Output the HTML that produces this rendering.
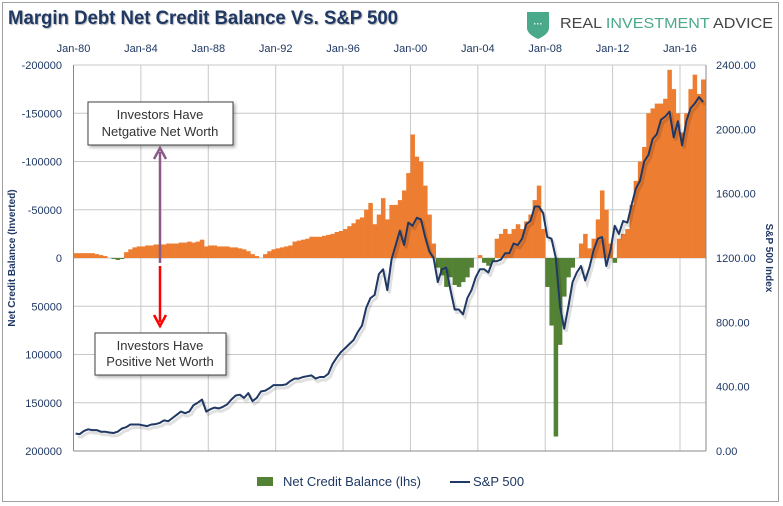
<!DOCTYPE html>
<html><head><meta charset="utf-8">
<style>
body{margin:0;background:#fff;}
#wrap{position:relative;width:783px;height:506px;overflow:hidden;font-family:"Liberation Sans Narrow","Liberation Sans",sans-serif;}
svg text{font-family:"Liberation Sans Narrow","Liberation Sans",sans-serif;}
</style></head>
<body>
<div id="wrap">
<svg id="chart" width="783" height="506" xmlns="http://www.w3.org/2000/svg">
<defs>
<filter id="sh" x="-5%" y="-5%" width="115%" height="120%"><feDropShadow dx="2" dy="2" stdDeviation="1.5" flood-color="#000" flood-opacity="0.3"/></filter>
</defs>
<rect x="2.5" y="2.5" width="776" height="499" fill="#fff" stroke="#a0a0a0"/>
<text x="8" y="24" font-size="19" font-weight="bold" fill="#1f3864" textLength="390" lengthAdjust="spacingAndGlyphs" style="text-shadow:1px 1px 1px rgba(0,0,0,0.3)">Margin Debt Net Credit Balance Vs. S&amp;P 500</text>
<g>
<path d="M527 12 L549 12 L549 28 Q549 34 538 39 Q527 34 527 28 Z" fill="#4aa98a"/>
<text x="538" y="27" font-size="9" fill="#fff" text-anchor="middle" font-weight="bold">···</text>
<text x="560" y="28" font-size="15" fill="#444" textLength="213" lengthAdjust="spacingAndGlyphs">REAL <tspan fill="#4aa98a">INVESTMENT</tspan> ADVICE</text>
</g>
<g id="grid"></g>
<g id="bars"></g>
<g id="line"></g>
<g id="axes"></g>
<g>
<rect x="88" y="102" width="145" height="43" fill="#fff" stroke="#404040" filter="url(#sh)"/>
<text x="160" y="119" font-size="13" fill="#333" text-anchor="middle">Investors Have</text>
<text x="160" y="136" font-size="13" fill="#333" text-anchor="middle">Netgative Net Worth</text>
</g>
<g>
<line x1="160" y1="263" x2="160" y2="152" stroke="#8c5a86" stroke-width="2.5"/>
<path d="M154 159 L160 148 L166 159" fill="none" stroke="#8c5a86" stroke-width="2.5"/>
</g>
<g>
<line x1="160" y1="266" x2="160" y2="322" stroke="#ff0000" stroke-width="2.5"/>
<path d="M154 315 L160 326 L166 315" fill="none" stroke="#ff0000" stroke-width="2.5"/>
</g>
<g>
<rect x="95" y="333" width="131" height="42" fill="#fff" stroke="#404040" filter="url(#sh)"/>
<text x="160" y="350" font-size="13" fill="#333" text-anchor="middle">Investors Have</text>
<text x="160" y="366" font-size="13" fill="#333" text-anchor="middle">Positive Net Worth</text>
</g>
<g>
<rect x="257" y="477" width="16" height="9" fill="#548235"/>
<text x="283" y="486" font-size="13" fill="#1f3864">Net Credit Balance (lhs)</text>
<line x1="450" y1="482" x2="470" y2="482" stroke="#1f3864" stroke-width="2"/>
<text x="473" y="486" font-size="13" fill="#1f3864">S&amp;P 500</text>
</g>
</svg>
</div>
<script>
const creditStart = 1980;
const creditValues = [
-5,-5,-5,-5, -5,-4,-3,-2, 0,1,2,1, -6,-9,-11,-12, -12,-13,-13,-14,
-14,-14,-15,-15, -15,-16,-16,-17, -16,-17,-19,-12, -13,-13,-12,-12, -12,-11,-11,-10,
-9,-7,-4,-2, 0,-4,-7,-9, -10,-11,-12,-13, -17,-18,-19,-20, -22,-22,-22,-23,
-24,-25,-27,-28, -30,-33,-36,-40, -42,-50,-57,-35, -45,-62,-40,-55, -55,-60,-70,-88,
-128,-105,-100,-75, -45,-15,10,18, 30,20,28,30, 25,20,10,0, -3,5,8,4,
-20,-25,-30,-25, -30,-35,-30,-38, -45,-60,-75,-30, 30,70,185,90, 40,20,10,0,
-15,-25,-10,-20, -40,-70,-50,-15, 5,-20,-25,-30, -55,-80,-100,-115, -150,-155,-160,-160,
-165,-195,-175,-150, -130,-150,-175,-190, -170,-185];
const spValues = [
108,105,125,135, 130,130,120,120, 115,112,120,140, 148,165,165,165, 160,155,165,167,
175,190,185,205, 225,245,235,245, 285,300,320,245, 260,270,265,275, 290,320,345,350,
330,360,310,330, 370,375,390,410, 410,410,415,435, 450,450,460,465, 470,450,460,460,
480,540,580,615, 640,665,690,740, 780,890,950,970, 1100,1130,1000,1190, 1280,1370,1280,1420,
1400,1450,1440,1330, 1240,1200,1050,1130, 1140,1000,880,880, 850,950,1000,1080, 1130,1130,1110,1180,
1180,1190,1230,1230, 1290,1280,1320,1410, 1430,1520,1520,1480, 1330,1320,1200,900, 760,900,1050,1110,
1150,1060,1140,1250, 1320,1330,1150,1250, 1400,1350,1430,1420, 1530,1630,1680,1800, 1840,1940,1970,2060,
2080,2110,1950,2050, 1900,2050,2130,2160, 2200,2170];
const xTickLabels = ["Jan-80","Jan-84","Jan-88","Jan-92","Jan-96","Jan-00","Jan-04","Jan-08","Jan-12","Jan-16"];
const xTickYears = [1980,1984,1988,1992,1996,2000,2004,2008,2012,2016];
const leftTicks = [-200000,-150000,-100000,-50000,0,50000,100000,150000,200000];
const rightTicks = [2400,2000,1600,1200,800,400,0];

const NS="http://www.w3.org/2000/svg";
const L=73.5, R=706, T=65, B=451;
const pxPerYear=(680-73.5)/36;
const xS = y => L + (y-1980)*pxPerYear;
const yL = v => T + (v*1000 + 200000)/400000*(B-T);
const yR = v => B - v/2400*(B-T);
function mk(tag,attrs,parent){const e=document.createElementNS(NS,tag);for(const k in attrs)e.setAttribute(k,attrs[k]);parent.appendChild(e);return e;}
const grid=document.getElementById('grid'), axes=document.getElementById('axes');
leftTicks.forEach(v=>{
  const y=T+(v+200000)/400000*(B-T);
  const g=mk('line',{x1:L,x2:R,y1:y,y2:y,stroke:'#c8c8c8','stroke-width':1},grid);
  
  
  const t=mk('text',{x:62,y:y+4,'font-size':11,'text-anchor':'end',fill:'#1f3864'},axes);
  t.textContent=String(v);
  
  
});
xTickYears.forEach((yr,i)=>{
  const x=xS(yr);
  const g=mk('line',{x1:x,x2:x,y1:T,y2:B,stroke:'#c8c8c8','stroke-width':1},grid);
  
  
  const t=mk('text',{x:x,y:52,'font-size':11,'text-anchor':'middle',fill:'#1f3864'},axes);
  t.textContent=xTickLabels[i];
  
  
});
rightTicks.forEach(v=>{
  const t=mk('text',{x:716,y:yR(v)+4,'font-size':11,fill:'#1f3864'},axes);
  t.textContent=v.toFixed(2);
  
  
});
[['left-axis-line',L],['right-axis-line',R]].forEach(([n,x])=>{
  const a=mk('line',{x1:x,x2:x,y1:T,y2:B,stroke:'#888'},axes);
  
  
});
const xa=mk('line',{x1:L,x2:R,y1:B,y2:B,stroke:'#888'},axes);


const lt=mk('text',{x:0,y:0,'font-size':10,'font-weight':'bold',fill:'#1f3864','text-anchor':'middle',transform:'translate(15,258) rotate(-90)'},axes);
lt.textContent='Net Credit Balance (Inverted)';


const rt=mk('text',{x:0,y:0,'font-size':10,'font-weight':'bold',fill:'#1f3864','text-anchor':'middle',transform:'translate(766,258) rotate(90)'},axes);
rt.textContent='S&P 500 Index';



const bars=document.getElementById('bars');
const y0=yL(0), w=pxPerYear/4;
creditValues.forEach((v,i)=>{
  const x=xS(creditStart+i/4);
  const y=yL(v);
  const r=mk('rect',{x:x,y:Math.min(y,y0),width:w+0.3,height:Math.abs(y-y0),fill:v<0?'#ed7d31':'#548235'},bars);
  
  
});
const pts=spValues.map((v,i)=>xS(creditStart+i/4+w/pxPerYear/2).toFixed(1)+','+yR(v).toFixed(1)).join(' ');
const sh=mk('polyline',{points:pts,fill:'none',stroke:'rgba(0,0,0,0.12)','stroke-width':3,transform:'translate(2,3)'},document.getElementById('line'));


const pl=mk('polyline',{points:pts,fill:'none',stroke:'#1f3864','stroke-width':2,'stroke-linejoin':'round'},document.getElementById('line'));


</script>
</body></html>
